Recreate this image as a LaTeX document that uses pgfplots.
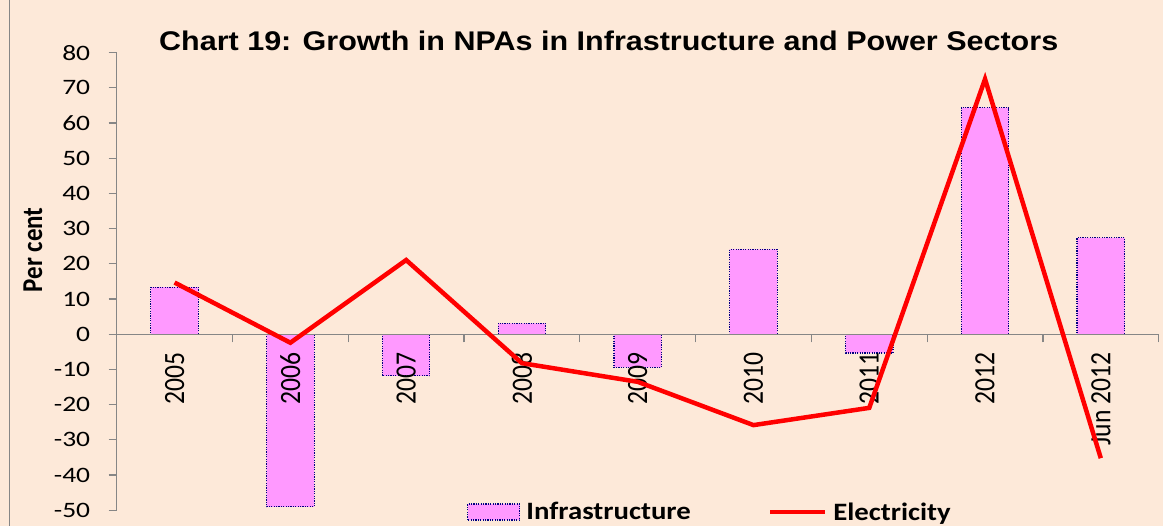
\documentclass[border=0pt]{standalone}
\usepackage{pgfplots}
\pgfplotsset{compat=1.18}
\usepackage{fontspec}
\setmainfont{Carlito}
\newfontfamily\titlefont{Liberation Sans}
\usepackage{graphicx}
\definecolor{bg}{HTML}{FDE9D9}
\definecolor{barfill}{HTML}{FF99FF}
\definecolor{baredge}{HTML}{000080}
\definecolor{axgray}{HTML}{868686}
\newcommand{\sx}[1]{\scalebox{1.25}[1]{#1}}
\newcommand{\slg}[1]{\scalebox{1.15}[1]{#1}}
\newcommand{\sy}[1]{\scalebox{1}[1.15]{#1}}
\newcommand{\st}[1]{\scalebox{1.13}[1]{#1}}
\pgfplotsset{geom/.style={at={(116.7bp,15.7bp)}, anchor=south west,
  scale only axis, width=1042bp, height=457.6bp,
  xmin=-0.5, xmax=8.5, ymin=-50, ymax=80}}
\begin{document}
\begin{tikzpicture}
\useasboundingbox (0bp,0bp) rectangle (1163bp,526bp);
\fill[bg] (0bp,0bp) rectangle (1163bp,526bp);
\draw[axgray, line width=1bp] (9bp,0bp) -- (9bp,526bp);
\begin{axis}[
  geom,
  axis on top,
  axis x line*=middle, axis y line*=left,
  axis line style={axgray, line width=1.2bp},
  tick align=outside,
  xtick={0,...,8},
  xticklabels={\sy{2005},\sy{2006},\sy{2007},\sy{2008},\sy{2009},\sy{2010},\sy{2011},\sy{2012},\sy{Jun 2012}},
  xticklabel style={yshift=-7bp, rotate=90, anchor=east, font=\fontsize{25.6bp}{30bp}\selectfont},
  major x tick style={draw=none},
  minor xtick={-0.5,0.5,...,8.5},
  minor x tick style={axgray, line width=1.2bp},
  minor tick length=8bp,
  ytick={-50,-40,...,80},
  major tick length=8bp,
  y tick style={axgray, line width=1.2bp},
  /pgf/number format/assume math mode=true,
  yticklabel={\sx{\pgfmathprintnumber{\tick}}},
  yticklabel style={anchor=east, xshift=-15bp, font=\fontsize{22bp}{26bp}\selectfont},
  ylabel={\sy{Per cent}},
  ylabel style={at={(axis description cs:-0.0803,0.569)}, anchor=center, rotate=0, font=\fontsize{25bp}{29bp}\selectfont\bfseries},
  title={\st{Chart 19: Growth in NPAs in Infrastructure and Power Sectors}},
  title style={at={(axis description cs:0.4722,1.0044)}, anchor=base, yshift=-6bp, font=\titlefont\bfseries\fontsize{27bp}{32bp}\selectfont},
  bar width=0.41,
]
\addplot[ybar, fill=barfill, draw=baredge, line width=1.2bp, dash pattern=on 1.2bp off 1.2bp]
  coordinates {(0,13.4) (1,-49) (2,-11.8) (3,3.1) (4,-9.4) (5,24.1) (6,-5.3) (7,64.4) (8,27.4)};
\end{axis}
\begin{axis}[
  geom,
  axis lines=none, xtick=\empty, ytick=\empty,
  legend columns=2,
  legend style={at={(axis description cs:0.5694,-0.0037)}, anchor=center, draw=none, fill=none,
    font=\fontsize{25bp}{30bp}\selectfont\bfseries,
    /tikz/every odd column/.append style={column sep=4bp},
    /tikz/every even column/.append style={column sep=75bp}},
  legend cell align=left,
]
\addlegendimage{legend image code/.code={\draw[fill=barfill, draw=baredge, line width=1.2bp, dash pattern=on 1.2bp off 1.2bp] (0bp,-8bp) rectangle (52bp,8bp);}}
\addlegendentry{\slg{Infrastructure}}
\addplot[sharp plot, red, line width=4.5bp, no marks,
  legend image code/.code={\draw[red, line width=4.5bp] (0bp,0bp) -- (55bp,0bp);}]
  coordinates {(0,14.7) (1,-2.4) (2,21.1) (3,-8.2) (4,-13.5) (5,-25.8) (6,-20.9) (7,72.5) (8,-35.2)};
\addlegendentry{\slg{Electricity}}
\end{axis}
\end{tikzpicture}
\end{document}
